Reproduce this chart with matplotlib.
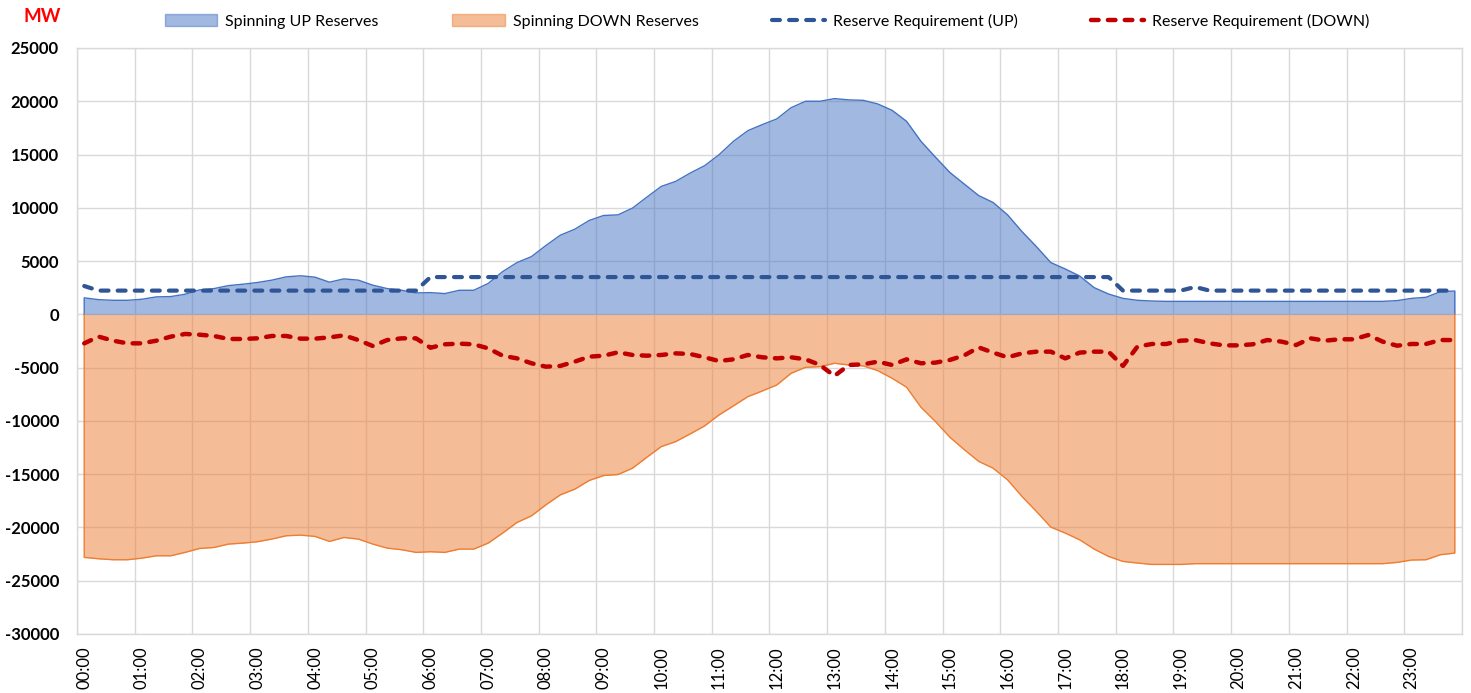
import numpy as np
import matplotlib
matplotlib.use('Agg')
import matplotlib.pyplot as plt
from matplotlib.patches import Patch
from matplotlib.lines import Line2D

plt.rcParams['font.family'] = ['Lato', 'DejaVu Sans']

# 15-min categories, 00:00 .. 23:45
times = ['%02d:%02d' % (h, m) for h in range(24) for m in (0, 15, 30, 45)]

up_reserves = [1550, 1380, 1320, 1320, 1420, 1640, 1670, 1890, 2300, 2420, 2700, 2830,
               2990, 3210, 3520, 3620, 3490, 3020, 3330, 3210, 2740, 2420, 2260, 2010,
               2040, 1950, 2260, 2260, 2900, 4010, 4860, 5420, 6460, 7430, 7990, 8810,
               9280, 9340, 9970, 11000, 12010, 12480, 13260, 13950, 14980, 16240, 17240, 17810,
               18340, 19400, 20000, 20000, 20250, 20130, 20090, 19750, 19150, 18120, 16240, 14760,
               13320, 12230, 11150, 10500, 9340, 7770, 6360, 4860, 4260, 3600, 2510, 1910,
               1500, 1320, 1250, 1220, 1220, 1220, 1220, 1220, 1220, 1220, 1220, 1220,
               1220, 1220, 1220, 1220, 1220, 1220, 1220, 1290, 1500, 1600, 2130, 2190]

down_reserves = [-22810, -22940, -23030, -23030, -22880, -22660, -22660, -22340, -21970, -21880, -21560, -21470,
                 -21340, -21090, -20780, -20720, -20840, -21310, -20940, -21090, -21560, -21940, -22090, -22340,
                 -22280, -22340, -22030, -22030, -21470, -20530, -19530, -18910, -17880, -16940, -16410, -15590,
                 -15130, -15030, -14440, -13410, -12410, -11940, -11220, -10470, -9440, -8590, -7720, -7190,
                 -6630, -5530, -4970, -4910, -4590, -4750, -4840, -5280, -6000, -6840, -8720, -10060,
                 -11530, -12700, -13800, -14440, -15530, -17090, -18500, -19970, -20530, -21160, -22030, -22720,
                 -23190, -23340, -23470, -23470, -23470, -23400, -23400, -23400, -23400, -23400, -23400, -23400,
                 -23400, -23400, -23400, -23400, -23400, -23400, -23400, -23280, -23060, -23030, -22560, -22410]

req_up = [2660, 2230, 2230, 2230, 2230, 2230, 2230, 2230, 2230, 2230, 2230, 2230,
          2230, 2230, 2230, 2230, 2230, 2230, 2230, 2230, 2230, 2230, 2230, 2230,
          3500, 3500, 3500, 3500, 3500, 3500, 3500, 3500, 3500, 3500, 3500, 3500,
          3500, 3500, 3500, 3500, 3500, 3500, 3500, 3500, 3500, 3500, 3500, 3500,
          3500, 3500, 3500, 3500, 3500, 3500, 3500, 3500, 3500, 3500, 3500, 3500,
          3500, 3500, 3500, 3500, 3500, 3500, 3500, 3500, 3500, 3500, 3500, 3500,
          2230, 2230, 2230, 2230, 2230, 2570, 2230, 2230, 2230, 2230, 2230, 2230,
          2230, 2230, 2230, 2230, 2230, 2230, 2230, 2230, 2230, 2230, 2230, 2230]

req_down = [-2720, -2090, -2470, -2720, -2720, -2470, -2090, -1840, -1910, -2030, -2310, -2310,
            -2250, -2030, -2030, -2280, -2280, -2160, -1970, -2410, -2970, -2410, -2250, -2250,
            -3130, -2810, -2750, -2810, -3190, -3880, -4130, -4590, -4910, -4840, -4440, -3970,
            -3880, -3560, -3810, -3880, -3810, -3660, -3720, -4030, -4380, -4220, -3810, -4030,
            -4130, -4030, -4220, -4750, -5780, -4750, -4690, -4440, -4750, -4220, -4590, -4530,
            -4280, -3850, -3100, -3590, -4030, -3660, -3500, -3500, -4130, -3590, -3500, -3500,
            -4840, -3030, -2780, -2780, -2470, -2410, -2720, -2910, -2910, -2810, -2410, -2560,
            -2880, -2250, -2470, -2340, -2340, -1940, -2560, -2940, -2780, -2780, -2410, -2410]

labels = ['Spinning UP Reserves', 'Spinning DOWN Reserves',
          'Reserve Requirement (UP)', 'Reserve Requirement (DOWN)']

blue = '#4472C4'
orange = '#ED7D31'
grid = '#D9D9D9'
up_dash = dict(color='#2F5597', lw=3.0, dashes=(1.9, 2.2), dash_capstyle='round')
down_dash = dict(color='#C00000', lw=3.2, dashes=(1.7, 2.1), dash_capstyle='round')

W, H = 1471, 693
fig = plt.figure(figsize=(W / 100, H / 100), dpi=100)
ax = fig.add_axes([77 / W, 1 - 634 / H, (1462 - 77) / W, (634 - 48) / H])

x = np.arange(len(times))
n = len(x)

# areas
ax.fill_between(x, 0, up_reserves, color=blue, alpha=0.5, lw=0, zorder=2)
ax.fill_between(x, 0, down_reserves, color=orange, alpha=0.5, lw=0, zorder=2)
ax.plot(np.r_[0, x, n - 1], np.r_[0, up_reserves, 0], color=blue, lw=1, zorder=3)
ax.plot(np.r_[0, x, n - 1], np.r_[0, down_reserves, 0], color=orange, lw=1, zorder=3)

# requirements
ax.plot(x, req_up, zorder=4, **up_dash)
ax.plot(x, req_down, zorder=4, **down_dash)

ax.set_xlim(-0.5, n - 0.5)
ax.set_ylim(-30000, 25000)
ax.set_yticks(np.arange(-30000, 25001, 5000))
ax.set_yticklabels([str(v) for v in range(-30000, 25001, 5000)], fontsize=12, fontweight='bold')
ax.set_xticks(x[::4])
ax.set_xticklabels(times[::4], rotation=90, fontsize=12)
ax.set_xticks(np.arange(-0.5, n, 4), minor=True)
ax.tick_params(axis='both', which='both', length=0)
ax.tick_params(axis='y', pad=13)
ax.tick_params(axis='x', pad=9)
ax.grid(False)
ax.grid(True, axis='y', which='major', color=grid, lw=1)
ax.grid(True, axis='x', which='minor', color=grid, lw=1)
ax.set_axisbelow(True)
for s in ax.spines.values():
    s.set_color(grid)
    s.set_linewidth(1)

handles = [Patch(facecolor=blue, alpha=0.5, edgecolor=blue),
           Patch(facecolor=orange, alpha=0.5, edgecolor=orange),
           Line2D([], [], **up_dash),
           Line2D([], [], **down_dash)]
fig.legend(handles, labels, loc='center', bbox_to_anchor=(767 / W, 1 - 21 / H), ncol=4,
           frameon=False, fontsize=11.5, handlelength=3.3, handleheight=0.75,
           columnspacing=4.6, handletextpad=0.5)

fig.text(42 / W, 1 - 16 / H, 'MW', color='#FF0000', fontsize=13.5, fontweight='bold',
         ha='center', va='center')

fig.savefig('out.png', dpi=100)
